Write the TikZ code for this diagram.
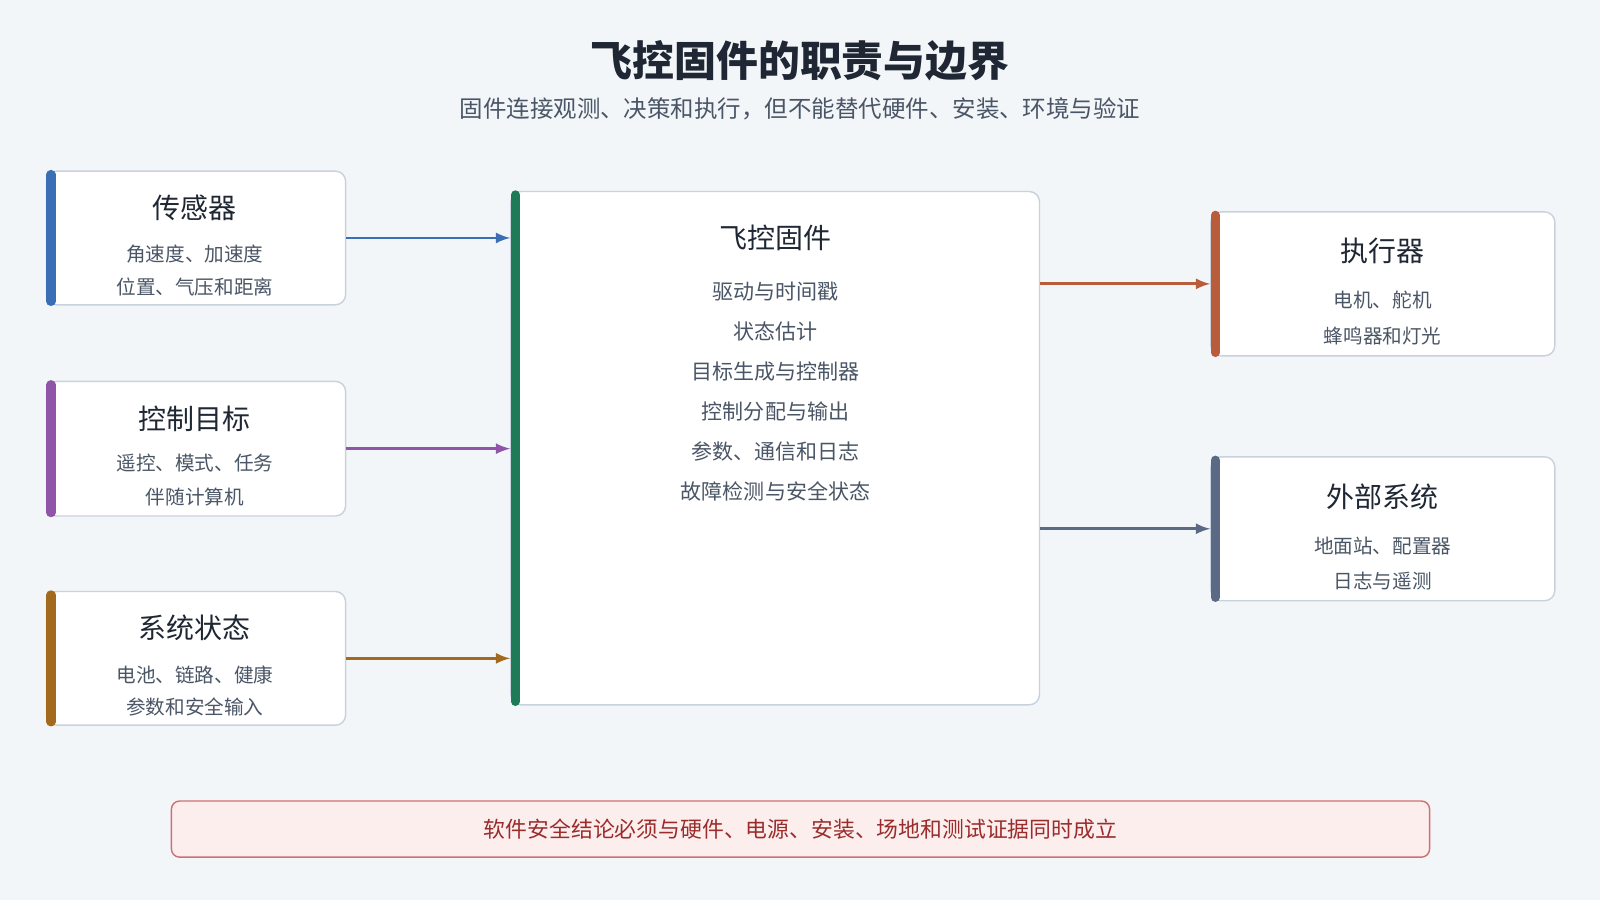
\documentclass[tikz,border=0pt]{standalone}
\usepackage{fontspec}
\setmainfont{Noto Sans CJK SC}
\usetikzlibrary{positioning}
\definecolor{bg}{HTML}{F3F6F9}
\definecolor{edge}{HTML}{C8D2DE}
\definecolor{ink}{HTML}{1E2733}
\definecolor{sub}{HTML}{4A5566}
\definecolor{cblue}{HTML}{3A6FB5}
\definecolor{cpurple}{HTML}{8E55A8}
\definecolor{cbrown}{HTML}{A36A1E}
\definecolor{cgreen}{HTML}{1F7A5A}
\definecolor{corange}{HTML}{B85C3C}
\definecolor{cslate}{HTML}{5A6A85}
\definecolor{warnfill}{HTML}{FDEEEE}
\definecolor{warnedge}{HTML}{D07070}
\definecolor{warnink}{HTML}{9B2C2C}
\tikzset{
  box/.style={draw=edge, fill=white, rounded corners=5pt, line width=0.7pt, anchor=north west, inner sep=0pt},
  head/.style={text=ink, font=\fontsize{13.7}{15}\selectfont},
  item/.style={text=sub, font=\fontsize{9.6}{11}\selectfont},
  flow/.style={-latex, line width=1.4pt}
}
\begin{document}
\begin{tikzpicture}[x=0.5pt, y=-0.5pt]
  \fill[bg] (0,0) rectangle (1568,882);
  \useasboundingbox (0,0) rectangle (1568,882);
  % Titel
  \node[text=ink, font=\fontsize{20.5}{22}\selectfont\bfseries] (title) at (784,60) {飞控固件的职责与边界};
  \node[text=sub, font=\fontsize{11.5}{13}\selectfont] (subtitle) at (784,107) {固件连接观测、决策和执行，但不能替代硬件、安装、环境与验证};

  % Eingaenge
  \node[box, minimum width=146.5pt, minimum height=65.5pt] (sensor) at (45,167) {};
  \node[box, minimum width=146.5pt, minimum height=66pt] (target) at (45,373) {};
  \node[box, minimum width=146.5pt, minimum height=65.5pt] (state) at (45,579) {};
  \draw[cblue, line width=4.5pt, line cap=round] ([xshift=2.5pt,yshift=-2pt]sensor.north west) -- ([xshift=2.5pt,yshift=2pt]sensor.south west);
  \draw[cpurple, line width=4.5pt, line cap=round] ([xshift=2.5pt,yshift=-2pt]target.north west) -- ([xshift=2.5pt,yshift=2pt]target.south west);
  \draw[cbrown, line width=4.5pt, line cap=round] ([xshift=2.5pt,yshift=-2pt]state.north west) -- ([xshift=2.5pt,yshift=2pt]state.south west);
  \node[head] at (191,204) {传感器};
  \node[item] at (191,249) {角速度、加速度};
  \node[item] at (191,281) {位置、气压和距离};
  \node[head] at (191,410) {控制目标};
  \node[item] at (191,454) {遥控、模式、任务};
  \node[item] at (191,487) {伴随计算机};
  \node[head] at (191,615) {系统状态};
  \node[item] at (191,661) {电池、链路、健康};
  \node[item] at (191,693) {参数和安全输入};

  % Kern
  \node[box, minimum width=259pt, minimum height=251.5pt] (core) at (500,187) {};
  \draw[cgreen, line width=4.5pt, line cap=round] ([xshift=2.5pt,yshift=-2pt]core.north west) -- ([xshift=2.5pt,yshift=2pt]core.south west);
  \node[head] at (760,233) {飞控固件};
  \foreach \t [count=\i from 0] in {驱动与时间戳, 状态估计, 目标生成与控制器, 控制分配与输出, 参数、通信和日志, 故障检测与安全状态}
    \node[item, font=\fontsize{10.3}{11}\selectfont] at (760,286+39.2*\i) {\t};

  % Ausgaenge
  \node[box, minimum width=168.5pt, minimum height=70.5pt] (actuator) at (1186,207) {};
  \node[box, minimum width=168.5pt, minimum height=70.5pt] (external) at (1186,447) {};
  \draw[corange, line width=4.5pt, line cap=round] ([xshift=2.5pt,yshift=-2pt]actuator.north west) -- ([xshift=2.5pt,yshift=2pt]actuator.south west);
  \draw[cslate, line width=4.5pt, line cap=round] ([xshift=2.5pt,yshift=-2pt]external.north west) -- ([xshift=2.5pt,yshift=2pt]external.south west);
  \node[head] at (1355,246) {执行器};
  \node[item] at (1355,294) {电机、舵机};
  \node[item] at (1355,329) {蜂鸣器和灯光};
  \node[head] at (1355,487) {外部系统};
  \node[item] at (1355,535) {地面站、配置器};
  \node[item] at (1355,569) {日志与遥测};

  % Pfeile
  \draw[flow, cblue] (sensor.east) -- (sensor.east -| core.west);
  \draw[flow, cpurple] (target.east) -- (target.east -| core.west);
  \draw[flow, cbrown] (state.east) -- (state.east -| core.west);
  \draw[flow, corange] (actuator.west -| core.east) -- (actuator.west);
  \draw[flow, cslate] (external.west -| core.east) -- (external.west);

  % Hinweis
  \node[draw=warnedge, fill=warnfill, rounded corners=4pt, line width=0.7pt, minimum width=616.5pt, minimum height=27.5pt, text=warnink, font=\fontsize{10.7}{12}\selectfont] (note) at (784.5,812.5) {软件安全结论必须与硬件、电源、安装、场地和测试证据同时成立};
\end{tikzpicture}
\end{document}
